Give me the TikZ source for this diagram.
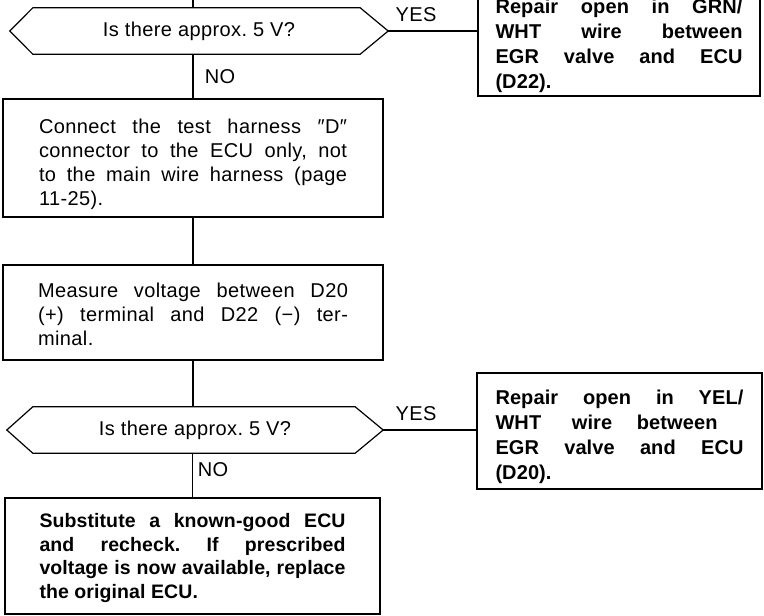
\documentclass[tikz,border=0pt]{standalone}
\usepackage{fontspec}
\setmainfont{Liberation Sans}[LetterSpace=2,BoldFeatures={LetterSpace=0.5}]
\usetikzlibrary{calc}
\newcommand\jline[1]{\hbox to \linewidth{#1}}
\newcommand\lline[1]{\hbox to \linewidth{#1\hfil}}
\tikzset{
  every node/.style={inner sep=0pt},
  ln/.style={line width=1.2pt, line join=miter},
  box/.style={draw, line width=1.2pt, rectangle},
  txt/.style={font=\fontsize{20}{24}\selectfont\frenchspacing},
  btxt/.style={font=\fontsize{19.5}{23.5}\selectfont\bfseries\frenchspacing},
  rtxt/.style={font=\fontsize{20}{25}\selectfont\bfseries\frenchspacing},
}
\begin{document}
\begin{tikzpicture}[x=1pt,y=-1pt]
\useasboundingbox (0,0) rectangle (764,616);
\clip (0,0) rectangle (764,616);

% decision 1
\node[txt, minimum width=378pt, minimum height=46pt] (d1) at (199,31) {Is there approx. 5 V?};
\draw[ln] (d1.west) -- ([xshift=23pt]d1.north west) -- ([xshift=-28pt]d1.north east) -- (d1.east)
  -- ([xshift=-28pt]d1.south east) -- ([xshift=23pt]d1.south west) -- cycle;

\node[box, txt, minimum width=380pt, minimum height=118pt] (b1) at (193,158)
 {\parbox{308pt}{\vspace*{12pt}\jline{Connect the test harness ″D″}\jline{connector to the ECU only, not}\jline{to the main wire harness (page}\lline{11-25).}}};

\node[box, txt, minimum width=380pt, minimum height=95pt] (b2) at (193,312.5)
 {\parbox{310pt}{\vspace*{4pt}\jline{Measure voltage between D20}\jline{(+) terminal and D22 (−) ter-}\lline{minal.}}};

% decision 2
\node[txt, minimum width=376pt, minimum height=46pt] (d2) at (195,430) {Is there approx. 5 V?};
\draw[ln] (d2.west) -- ([xshift=26pt]d2.north west) -- ([xshift=-28pt]d2.north east) -- (d2.east)
  -- ([xshift=-28pt]d2.south east) -- ([xshift=26pt]d2.south west) -- cycle;

\node[box, btxt, minimum width=375pt, minimum height=116pt] (b3) at (192.5,556)
 {\parbox{306pt}{\vspace*{4pt}\jline{Substitute a known-good ECU}\jline{and recheck. If prescribed}\jline{voltage is now available, replace}\lline{the original ECU.}}};

\node[box, rtxt, minimum width=282pt, minimum height=106pt] (r1) at (619,43)
 {\parbox{247pt}{\vspace*{6pt}\jline{Repair open in GRN/}\jline{WHT wire between}\jline{EGR valve and ECU}\lline{(D22).}}};

\node[box, rtxt, minimum width=285pt, minimum height=116pt] (r2) at (619.5,431)
 {\parbox{248pt}{\vspace*{12pt}\jline{Repair open in YEL/}\lline{\hbox to 222pt{WHT\hspace{6pt} wire between}}\jline{EGR valve and ECU}\lline{(D20).}}};

% labels
\node[txt] (no1) at (220,77) {NO};
\node[txt] (no2) at (213,470) {NO};
\node[txt] (yes1) at (416,15) {YES};
\node[txt] (yes2) at (416,414) {YES};

% connectors
\coordinate (top) at (193,0);
\draw[ln] (top) -- (top |- d1.north);
\draw[ln] (b1.north |- d1.south) -- (b1.north);
\draw[ln] (b1.south) -- (b2.north);
\draw[ln] (b2.south) -- (b2.south |- d2.north);
\draw[ln] (b3.north |- d2.south) -- (b3.north);
\draw[ln] (d1.east) -- (d1.east -| r1.west);
\draw[ln] (d2.east) -- (d2.east -| r2.west);
\end{tikzpicture}
\end{document}
